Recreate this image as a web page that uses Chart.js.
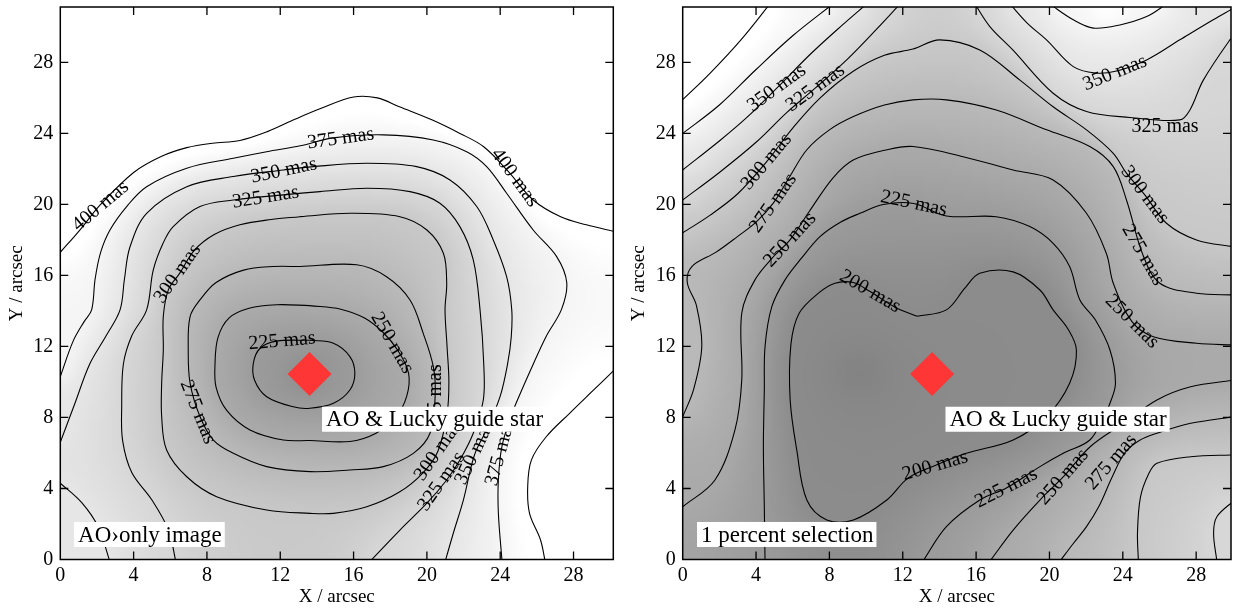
<!DOCTYPE html>
<html><head><meta charset="utf-8">
<script src="https://cdn.jsdelivr.net/npm/chart.js@4.4.1/dist/chart.umd.min.js"></script>
<style>
html,body{margin:0;padding:0;background:#fff;width:1233px;height:608px;overflow:hidden}
.panel{position:absolute;top:0;height:608px}
#p1{left:0;width:616px}
#p2{left:620px;width:613px}
</style></head><body>
<div class="panel" id="p1"><canvas id="c1" width="616" height="608"></canvas></div>
<div class="panel" id="p2"><canvas id="c2" width="613" height="608"></canvas></div>
<script>
// ---------- axis data ----------
const xTicks = [0,4,8,12,16,20,24,28];
const yTicks = [0,4,8,12,16,20,24,28];
const leftXMax = 30.17, rightXMax = 29.9, yMax = 31.12;
const guideStar = [{x:13.6, y:10.45}];

// ---------- left panel contours (arcsec) ----------
const left400Top = [[0,17.3],[1.1,18.6],[2.2,20.0],[4,21.8],[5.5,22.7],[6.9,23.2],[8.3,23.45],[9.8,23.6],[11.3,24.1],[12.7,24.75],[14.2,25.4],[16,26.05],[17.3,26],[18.5,25.5],[20.3,24.75],[21.8,24],[23.1,23.25],[24.4,21.9],[25.8,20.25],[27.3,19.3],[28.7,18.85],[30.3,18.45]];
const left400Right = [[30.3,10.75],[29.1,9.55],[27.8,8.25],[26.5,6.9],[25.7,5.6],[25.5,4.1],[25.6,2.6],[26.2,1.1],[26.45,-0.1]];
const left375 = [[0,10.3],[0.7,12.3],[1.3,13.4],[1.71,14.06],[1.9,15.8],[2.2,17.3],[2.71,18.56],[3.62,19.88],[4.71,21],[6.9,22.04],[9.44,22.6],[11.26,22.97],[13.1,23.3],[14.9,23.75],[17.62,23.92],[20.35,23.63],[22.17,22.97],[23.26,22.13],[24.35,20.63],[25.8,18.56],[27.08,17.06],[27.63,15.6],[27.35,14.1],[26.5,12.55],[25.8,11.0],[25.2,9.6],[24.6,8.1],[24.1,6.4],[23.9,4.5],[23.9,2.6],[24.1,-0.1]];
const left350 = [[0,6.6],[0.8,8.8],[1.6,11],[2.5,12.6],[3.26,14.06],[3.5,15.8],[3.8,17.6],[4.71,19.5],[6.9,21],[9.44,21.57],[12.17,21.94],[13.8,22.13],[16.7,22.32],[19.44,22.13],[21.26,21.38],[22.72,19.88],[23.62,18],[24.35,15.93],[24.63,14.06],[24.6,12.5],[24.4,11],[24.0,9.2],[23.3,7.4],[22.6,5.9],[21.99,3.35],[21.44,1.48],[21,-0.1]];
const left350Corner = [[0,4.3],[1.17,3.2],[2.07,1.83],[2.7,-0.1]];
const left325 = [[6.3,-0.1],[5.9,1.66],[5,3.35],[3.9,4.9],[3.4,6.7],[3.35,8.6],[3.44,11],[3.9,12.6],[4.71,14.06],[5.07,16.3],[5.6,17.8],[6.16,18.75],[7.62,19.88],[9.44,20.25],[12.17,20.54],[14.17,20.72],[16.72,20.91],[19.08,20.72],[20.71,20.07],[21.8,18.75],[22.53,16.87],[22.9,14.06],[23.1,11.05],[23.08,9],[22.53,7.11],[21.8,5.6],[21.08,4.48],[20,3.17],[18.53,1.66],[16.9,-0.1]];
const left300 = [[13.08,19.31],[15.8,19.5],[18.53,19.31],[20,18.56],[20.9,17.25],[21.08,15.56],[20.99,14.06],[21.1,12],[21.2,10],[21.1,8.2],[20.6,6.1],[19.8,4.9],[18.5,3.8],[16.72,2.97],[14.9,2.6],[13.62,2.6],[11.26,2.79],[8.53,3.54],[6.9,4.66],[5.8,6.17],[5.53,8.05],[5.53,9.93],[5.62,11.8],[5.62,13.7],[5.9,15.2],[6.5,16.1],[7.3,17.4],[8.4,18.3],[9.8,18.85],[11.5,19.15],[13.08,19.31]];
const left275 = [[13.08,16.5],[16.17,16.6],[17.8,15.93],[19.08,14.62],[19.8,12.74],[20.35,10.86],[20.45,9.2],[20.17,7.11],[19.26,5.98],[17.62,5.23],[15.8,5.04],[13.62,4.95],[11.26,5.23],[9.44,5.98],[8.35,6.73],[7.62,8.05],[7.08,9.93],[6.98,11.8],[7.08,13.68],[7.62,14.62],[8.5,15.6],[10,16.3],[11.6,16.5],[13.08,16.5]];
const left250 = [[13.6,14.3],[15.3,14.1],[16.6,13.6],[17.6,12.8],[18.4,11.8],[19,10.5],[18.9,9.2],[18.3,8],[17.2,7.1],[15.8,6.65],[13.6,6.7],[12.17,6.73],[10.35,7.3],[9.08,8.4],[8.5,9.7],[8.44,11],[8.6,12.5],[9.2,13.6],[10.3,14.15],[11.8,14.35],[13.6,14.3]];
const left225 = [[13.6,12.35],[14.9,12.18],[15.8,11.43],[16.07,10.49],[15.8,9.55],[14.9,8.8],[13.62,8.52],[12.71,8.6],[11.26,9.17],[10.6,10.1],[10.53,11.05],[10.9,11.9],[11.8,12.3],[13.6,12.35]];
const leftMinimum = {x:13.4, y:10.4, v:208};

// ---------- right panel contours (arcsec) ----------
const right400 = [[0,25.9],[1.5,27.4],[3.2,29.3],[4.76,31.3]];
const right375Left = [[0,24],[2,25.6],[4,27.6],[6,29.5],[8.2,31.3]];
const right375Top = [[20.0,31.3],[21.3,30.4],[22.4,29.93],[23.84,30.11],[25.3,30.58],[26.4,31.3]];
const right350Left = [[0,21.94],[2.03,23.6],[3.5,24.9],[5.13,26.55],[7,28.5],[8.7,30.1],[10.04,31.3]];
const right350Top = [[17.84,31.3],[18.8,30.2],[19.84,29.27],[21.3,27.76],[22.5,27.4],[23.6,27.5],[25.3,28.14],[27.11,29.27],[28.93,30.4],[29.95,31.0]];
const right325Left = [[0,20.25],[2,21.8],[4,23.5],[5.7,25.2],[7.24,26.56],[9,28.2],[10.6,29.9],[11.86,31.3]];
const right325Top = [[15.93,31.3],[16.75,30.02],[18.0,28.7],[20.2,26.26],[22.02,25.23],[24.39,24.9],[27.11,24.76],[27.66,25.32],[28.39,27.0],[29.84,29.27],[30.1,29.5]];
const right325Corner = [[30.1,3.35],[29.13,2.41],[28.95,1.48],[29.13,-0.1]];
const right300 = [[0,18.4],[1.5,19.4],[3,20.6],[4.58,22.41],[6,24.3],[7.5,26.0],[9.3,27.5],[11,28.4],[12.56,28.75],[14.02,29.27],[16.2,28.7],[18.39,27.0],[20.2,25.5],[22.02,24.2],[23.48,22.88],[24.2,21.76],[25.2,20.54],[26.38,18.94],[28.02,18.0],[30.1,17.6]];
const right300Low = [[24.85,-0.1],[24.8,1.5],[24.96,3.5],[25.4,4.8],[25.86,5.42],[27.7,5.79],[30.1,5.89]];
const right275 = [[0,8.04],[0.6,9.6],[1.04,12],[0.75,14.3],[0.25,15.6],[0.5,16.5],[1.8,17.3],[3,18.2],[4,19],[4.94,20.07],[5.8,21.5],[6.77,23.08],[8,24.2],[9.31,24.95],[11,25.6],[12.56,25.89],[14.38,25.89],[17.1,25.32],[19.84,24.2],[22.2,23.26],[23.48,22.13],[24.2,20.25],[25.1,17.15],[26.02,15.56],[28.02,15.0],[30.1,14.9]];
const right275Low = [[20.57,-0.1],[21.3,0.9],[22.02,1.85],[22.7,3.0],[23.4,4.6],[24.1,6.0],[24.9,6.7],[25.86,7.11],[27.7,7.67],[30.1,8.05]];
const right250 = [[0,2.97],[1.76,4.48],[2.85,7.3],[3.22,10.1],[3.22,13.87],[3.94,15.75],[4.9,17],[5.85,18],[6.9,19.6],[8.2,21.5],[9.3,22.5],[11.1,23.07],[12.56,23.26],[15.29,22.69],[18.02,21.94],[20.2,21.38],[22.02,19.5],[23.1,17.25],[23.48,15.56],[24.5,13.4],[25.67,12.55],[28.02,12.18],[30.1,12.08]];
const right250Low = [[16.75,-0.1],[18.02,1.66],[19.48,3.35],[20.75,4.65],[22.22,6.35],[24.04,7.67],[25.86,8.99],[27.7,9.73],[30.1,10.11]];
const right225 = [[4.49,-0.1],[4.45,3],[4.4,6.35],[4.45,9.5],[4.49,12],[4.86,14.24],[5.58,15.75],[6.5,17],[7.5,18.2],[8.6,19.0],[9.67,19.5],[10.94,20.0],[12.6,20.05],[14.38,19.35],[17.1,19.31],[18.93,18.75],[20.2,17.81],[21.1,16.5],[21.66,14.62],[22.5,13.5],[23.3,11.8],[23.6,9.93],[23.3,8.8],[22.95,8.04],[22.2,6.73],[20.75,5.98],[19.48,5.23],[17.65,4.03],[16.2,3.35],[14.38,1.85],[13.1,-0.1]];
const right200 = [[12.8,13.7],[14.38,14.06],[15.4,15.3],[16.2,16.12],[18.02,16.2],[19.48,15.18],[20.2,14.06],[21.0,13.0],[21.47,11.8],[21.1,9.93],[19.84,8.04],[18.02,6.73],[15.47,5.98],[13.77,5.3],[12.3,4.6],[11.13,3.35],[9.31,2.23],[7.86,2.23],[6.77,3.35],[6.22,6.17],[5.86,8.99],[5.9,12.1],[6.35,13.87],[7.4,15],[8.3,15.56],[9.3,15.6],[10.22,15.09],[11.6,14.2],[12.8,13.7]];
const rightMinimum = {x:9.6, y:10.5, v:186};
const rightMaximum = {x:23.2, y:31.1, v:390};

// ---------- contour labels ----------
const leftLabels = [
  {t:'400 mas', x:2.2, y:19.9, a:-40}, {t:'400 mas', x:24.8, y:21.5, a:54},
  {t:'375 mas', x:15.3, y:23.7, a:-8}, {t:'350 mas', x:12.2, y:21.9, a:-12},
  {t:'325 mas', x:11.2, y:20.4, a:-9}, {t:'300 mas', x:6.4, y:16.1, a:-55},
  {t:'275 mas', x:7.5, y:8.3, a:68}, {t:'250 mas', x:18.1, y:12.2, a:60},
  {t:'225 mas', x:12.1, y:12.3, a:-5}, {t:'275 mas', x:20.5, y:9.1, a:-90},
  {t:'300 mas', x:20.6, y:6.1, a:-55}, {t:'325 mas', x:20.8, y:4.4, a:-55},
  {t:'350 mas', x:22.6, y:6.0, a:-65}, {t:'375 mas', x:24.0, y:6.0, a:-75}
];
const rightLabels = [
  {t:'350 mas', x:5.13, y:26.55, a:-36}, {t:'325 mas', x:7.24, y:26.56, a:-36},
  {t:'300 mas', x:4.58, y:22.41, a:-50}, {t:'275 mas', x:4.94, y:20.07, a:-55},
  {t:'250 mas', x:5.85, y:18.0, a:-47}, {t:'225 mas', x:12.6, y:20.05, a:12},
  {t:'200 mas', x:10.22, y:15.09, a:30}, {t:'350 mas', x:23.57, y:27.4, a:-22},
  {t:'325 mas', x:26.3, y:24.4, a:0}, {t:'300 mas', x:25.2, y:20.54, a:53},
  {t:'275 mas', x:25.1, y:17.15, a:60}, {t:'250 mas', x:24.5, y:13.4, a:45},
  {t:'200 mas', x:13.77, y:5.27, a:-16}, {t:'225 mas', x:17.65, y:4.03, a:-27},
  {t:'250 mas', x:20.75, y:4.65, a:-49}, {t:'275 mas', x:23.37, y:5.49, a:-49}
];
const leftBoxes = [{t:'AO & Lucky guide star', x:14.28, y:7.9}, {t:'AO\u203Aonly image', x:0.75, y:1.41}];
const rightBoxes = [{t:'AO & Lucky guide star', x:14.33, y:7.9}, {t:'1 percent selection', x:0.78, y:1.41}];

const leftContours = [
  {level:400, pts:left400Top}, {level:400, pts:left400Right}, {level:375, pts:left375},
  {level:350, pts:left350}, {level:350, pts:left350Corner}, {level:325, pts:left325},
  {level:300, pts:left300}, {level:275, pts:left275}, {level:250, pts:left250}, {level:225, pts:left225}
];
const rightContours = [
  {level:400, pts:right400}, {level:375, pts:right375Left}, {level:375, pts:right375Top},
  {level:350, pts:right350Left}, {level:350, pts:right350Top}, {level:325, pts:right325Left},
  {level:325, pts:right325Top}, {level:325, pts:right325Corner}, {level:300, pts:right300},
  {level:300, pts:right300Low}, {level:275, pts:right275}, {level:275, pts:right275Low},
  {level:250, pts:right250}, {level:250, pts:right250Low}, {level:225, pts:right225}, {level:200, pts:right200}
];

// ---------- styling ----------
const FF = "'Liberation Serif','Times New Roman',Times,serif";
const GRAY_WHITE = 392, GRAY_SLOPE = 0.6;

// Shading: harmonic interpolation between the contour lines (Laplace, contours fixed)
function buildField(contours, extrema, xmax, ymax){
  const h = 0.2, nx = Math.ceil(xmax/h)+1, ny = Math.ceil(ymax/h)+1;
  const v = new Float32Array(nx*ny), fix = new Uint8Array(nx*ny);
  const setCell = (x,y,val)=>{ const i=Math.round(x/h), j=Math.round(y/h); if(i<0||j<0||i>=nx||j>=ny) return; v[j*nx+i]=val; fix[j*nx+i]=1; };
  let sum=0;
  contours.forEach(c=>{
    sum += c.level;
    for(let k=0;k<c.pts.length-1;k++){
      const [x0,y0]=c.pts[k],[x1,y1]=c.pts[k+1];
      const steps=Math.max(1,Math.ceil(Math.hypot(x1-x0,y1-y0)/(h*0.25)));
      for(let s=0;s<=steps;s++){ const t=s/steps; setCell(x0+(x1-x0)*t,y0+(y1-y0)*t,c.level); }
    }
  });
  extrema.forEach(e=>{ for(let dx=-0.8;dx<=0.8;dx+=h) for(let dy=-0.8;dy<=0.8;dy+=h) if(dx*dx+dy*dy<=0.64) setCell(e.x+dx,e.y+dy,e.v); });
  const init = sum/contours.length;
  for(let i=0;i<v.length;i++) if(!fix[i]) v[i]=init;
  const w=1.93;
  for(let it=0; it<1400; it++){
    for(let j=0;j<ny;j++){
      for(let i=0;i<nx;i++){
        const id=j*nx+i; if(fix[id]) continue;
        const l = i>0 ? v[id-1] : v[id+1];
        const r = i<nx-1 ? v[id+1] : v[id-1];
        const d = j>0 ? v[id-nx] : v[id+nx];
        const u = j<ny-1 ? v[id+nx] : v[id-nx];
        v[id] += w*((l+r+d+u)*0.25 - v[id]);
      }
    }
  }
  let a=v, b=new Float32Array(nx*ny);
  for(let p=0;p<3;p++){
    for(let j=0;j<ny;j++) for(let i=0;i<nx;i++){
      let s=0,n=0;
      for(let dj=-1;dj<=1;dj++) for(let di=-1;di<=1;di++){ const ii=i+di, jj=j+dj; if(ii<0||jj<0||ii>=nx||jj>=ny) continue; s+=a[jj*nx+ii]; n++; }
      b[j*nx+i]=s/n;
    }
    const t=a; a=b; b=t;
  }
  const cv=document.createElement('canvas'); cv.width=nx; cv.height=ny;
  const cx=cv.getContext('2d'); const img=cx.createImageData(nx,ny);
  for(let j=0;j<ny;j++) for(let i=0;i<nx;i++){
    const g=Math.max(0,Math.min(255,255-(GRAY_WHITE-a[j*nx+i])*GRAY_SLOPE));
    const p=((ny-1-j)*nx+i)*4; img.data[p]=img.data[p+1]=img.data[p+2]=g; img.data[p+3]=255;
  }
  cx.putImageData(img,0,0);
  return {h,nx,ny,canvas:cv};
}

function shadePlugin(field){
  return { id:'shade', beforeDatasetsDraw(chart){
    const {ctx, chartArea:ca, scales:{x,y}} = chart, h=field.h;
    ctx.save(); ctx.beginPath(); ctx.rect(ca.left,ca.top,ca.right-ca.left,ca.bottom-ca.top); ctx.clip();
    ctx.imageSmoothingEnabled=true; ctx.imageSmoothingQuality='high';
    const x0=x.getPixelForValue(-h/2), x1=x.getPixelForValue((field.nx-0.5)*h);
    const y0=y.getPixelForValue((field.ny-0.5)*h), y1=y.getPixelForValue(-h/2);
    ctx.drawImage(field.canvas,x0,y0,x1-x0,y1-y0);
    ctx.restore();
  }};
}

function overlayPlugin(labels, boxes){
  return { id:'overlay', afterDatasetsDraw(chart){
    const {ctx, chartArea:ca, scales:{x,y}} = chart;
    ctx.save(); ctx.beginPath(); ctx.rect(ca.left,ca.top,ca.right-ca.left,ca.bottom-ca.top); ctx.clip();
    ctx.fillStyle='#000'; ctx.font='20px '+FF; ctx.textAlign='center'; ctx.textBaseline='middle';
    labels.forEach(l=>{ ctx.save(); ctx.translate(x.getPixelForValue(l.x), y.getPixelForValue(l.y)); ctx.rotate(l.a*Math.PI/180); ctx.fillText(l.t,0,0); ctx.restore(); });
    ctx.font='23px '+FF; ctx.textAlign='left';
    boxes.forEach(bx=>{ const px=x.getPixelForValue(bx.x), py=y.getPixelForValue(bx.y); const wd=ctx.measureText(bx.t).width;
      ctx.fillStyle='#fff'; ctx.fillRect(px,py-12.5,wd+7,25); ctx.fillStyle='#000'; ctx.fillText(bx.t,px+4,py+1); });
    ctx.restore();
    ctx.save(); ctx.strokeStyle='#000'; ctx.lineWidth=1.5;
    ctx.strokeRect(ca.left,ca.top,ca.right-ca.left,ca.bottom-ca.top);
    ctx.lineWidth=1.3; ctx.beginPath();
    xTicks.forEach(v=>{ if(v===0) return; const px=x.getPixelForValue(v); ctx.moveTo(px,ca.bottom); ctx.lineTo(px,ca.bottom-8); ctx.moveTo(px,ca.top); ctx.lineTo(px,ca.top+8); });
    yTicks.forEach(v=>{ if(v===0) return; const py=y.getPixelForValue(v); ctx.moveTo(ca.left,py); ctx.lineTo(ca.left+8,py); ctx.moveTo(ca.right,py); ctx.lineTo(ca.right-8,py); });
    ctx.stroke(); ctx.restore();
  }};
}

function zeroPad(s){ s.paddingTop=0; s.paddingBottom=0; s.paddingLeft=0; s.paddingRight=0; }

function makeChart(id, cfg){
  const datasets=[{data:guideStar, pointStyle:'rectRot', pointRadius:22, pointHoverRadius:22, backgroundColor:'#ff3636', borderWidth:0, clip:false}];
  cfg.contours.forEach(c=>datasets.push({data:c.pts.map(([x,y])=>({x,y})), showLine:true, borderColor:'#000', borderWidth:1.1, pointRadius:0, pointHoverRadius:0, tension:0.35, fill:false, clip:0}));
  const tickFont={family:FF,size:20}, titleFont={family:FF,size:19};
  return new Chart(document.getElementById(id), {
    type:'scatter', data:{datasets},
    options:{responsive:false, animation:false, devicePixelRatio:1, events:[],
      layout:{autoPadding:false, padding:{left:0,right:cfg.padRight,top:7,bottom:0}},
      plugins:{legend:{display:false}, tooltip:{enabled:false}},
      scales:{
        x:{type:'linear', min:0, max:cfg.xmax,
          afterBuildTicks:s=>{ s.ticks=xTicks.map(v=>({value:v})); },
          afterFit:s=>{ s.height=48.5; zeroPad(s); },
          grid:{display:false, drawTicks:false}, border:{display:false},
          ticks:{color:'#000', font:tickFont, padding:4, maxRotation:0, autoSkip:false},
          title:{display:true, text:'X / arcsec', color:'#000', font:titleFont, padding:{top:0,bottom:0}}},
        y:{type:'linear', min:0, max:yMax,
          afterBuildTicks:s=>{ s.ticks=yTicks.map(v=>({value:v})); },
          afterFit:s=>{ s.width=cfg.yWidth; zeroPad(s); },
          grid:{display:false, drawTicks:false}, border:{display:false},
          ticks:{color:'#000', font:tickFont, padding:7, autoSkip:false},
          title:{display:true, text:'Y / arcsec', color:'#000', font:titleFont, padding:{top:cfg.yTitlePad,bottom:0}}}
      }},
    plugins:[shadePlugin(cfg.field), overlayPlugin(cfg.labels, cfg.boxes)]
  });
}

const leftField = buildField(leftContours, [leftMinimum], leftXMax, yMax);
const rightField = buildField(rightContours, [rightMinimum, rightMaximum], rightXMax, yMax);
makeChart('c1', {xmax:leftXMax, contours:leftContours, labels:leftLabels, boxes:leftBoxes, field:leftField, padRight:2.7, yWidth:60.3, yTitlePad:6});
makeChart('c2', {xmax:rightXMax, contours:rightContours, labels:rightLabels, boxes:rightBoxes, field:rightField, padRight:2, yWidth:62.7, yTitlePad:8});
</script></body></html>
